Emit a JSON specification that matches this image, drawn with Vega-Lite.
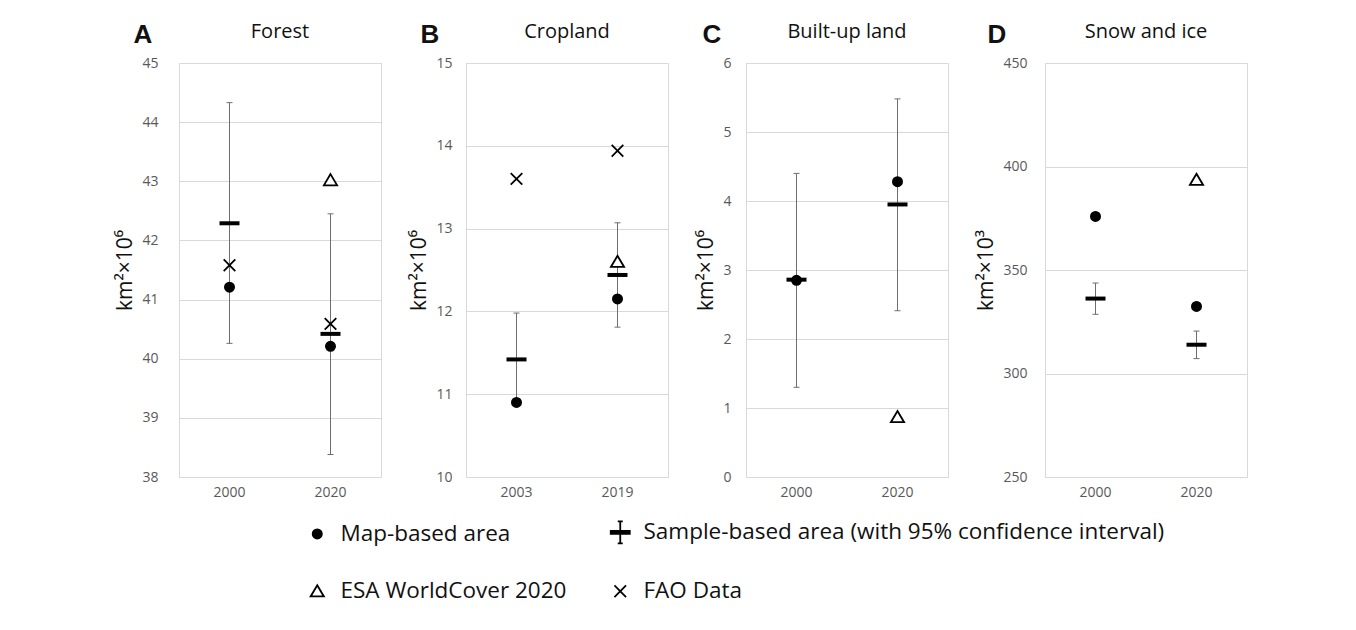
{
  "$schema": "https://vega.github.io/schema/vega-lite/v6.json",
  "padding": {"left": 114, "top": 21, "right": 10, "bottom": 4},
  "background": "white",
  "config": {
    "font": "Open Sans",
    "view": {"stroke": "#d9d9d9", "strokeWidth": 1},
    "axisY": {"labelFontSize": 14, "labelColor": "#595959", "ticks": false, "domain": false, "gridColor": "#d9d9d9", "labelPadding": 20, "titleFontSize": 21, "titleFontWeight": "normal", "titleColor": "#111", "titlePadding": 6},
    "axisX": {"labelFontSize": 14, "labelColor": "#595959", "ticks": false, "domain": false, "grid": false, "labelPadding": 8, "labelAngle": 0},
    "title": {"fontWeight": "normal", "fontSize": 20, "color": "#111"},
    "tick": {"opacity": 1},
    "point": {"opacity": 1}
  },
  "datasets": {
    "pts": [
      {"panel": "A", "year": "2000", "series": "Map-based area", "value": 41.21},
      {"panel": "A", "year": "2000", "series": "FAO Data", "value": 41.58},
      {"panel": "A", "year": "2020", "series": "ESA WorldCover 2020", "value": 43.02},
      {"panel": "A", "year": "2020", "series": "Map-based area", "value": 40.21},
      {"panel": "A", "year": "2020", "series": "FAO Data", "value": 40.59},
      {"panel": "B", "year": "2003", "series": "FAO Data", "value": 13.6},
      {"panel": "B", "year": "2003", "series": "Map-based area", "value": 10.9},
      {"panel": "B", "year": "2019", "series": "FAO Data", "value": 13.94},
      {"panel": "B", "year": "2019", "series": "ESA WorldCover 2020", "value": 12.6},
      {"panel": "B", "year": "2019", "series": "Map-based area", "value": 12.15},
      {"panel": "C", "year": "2000", "series": "Map-based area", "value": 2.85},
      {"panel": "C", "year": "2020", "series": "Map-based area", "value": 4.28},
      {"panel": "C", "year": "2020", "series": "ESA WorldCover 2020", "value": 0.87},
      {"panel": "D", "year": "2000", "series": "Map-based area", "value": 375.9},
      {"panel": "D", "year": "2020", "series": "ESA WorldCover 2020", "value": 393.6},
      {"panel": "D", "year": "2020", "series": "Map-based area", "value": 332.4}
    ],
    "samp": [
      {"panel": "A", "year": "2000", "sample": 42.29, "lo": 40.26, "hi": 44.33},
      {"panel": "A", "year": "2020", "sample": 40.42, "lo": 38.38, "hi": 42.45},
      {"panel": "B", "year": "2003", "sample": 11.42, "lo": 10.9, "hi": 11.98},
      {"panel": "B", "year": "2019", "sample": 12.44, "lo": 11.81, "hi": 13.07},
      {"panel": "C", "year": "2000", "sample": 2.86, "lo": 1.3, "hi": 4.4},
      {"panel": "C", "year": "2020", "sample": 3.95, "lo": 2.41, "hi": 5.48},
      {"panel": "D", "year": "2000", "sample": 336.2, "lo": 328.6, "hi": 343.7},
      {"panel": "D", "year": "2020", "sample": 313.9, "lo": 307.2, "hi": 320.5}
    ]
  },
  "spacing": 26,
  "resolve": {"scale": {"x": "independent", "y": "independent"}},
  "hconcat": [
    {
      "title": {"text": "A", "anchor": "start", "frame": "bounds", "fontSize": 26, "fontWeight": "bold", "font": "Liberation Sans", "dx": 19, "dy": 30},
      "vconcat": [{
        "title": {"text": "Forest", "anchor": "middle", "offset": 14},
        "width": 202, "height": 414,
        "layer": [
          {"data": {"name": "samp"}, "transform": [{"filter": "datum.panel === 'A'"}],
           "mark": {"type": "rule", "color": "#6e6e6e", "strokeWidth": 1},
           "encoding": {"x": {"field": "year", "type": "nominal", "title": null, "scale": {"paddingInner": 0, "paddingOuter": 0}},
             "y": {"field": "lo", "type": "quantitative", "scale": {"domain": [38, 45], "nice": false, "zero": false}, "axis": {"values": [38, 39, 40, 41, 42, 43, 44, 45], "title": "km²×10⁶", "labelPadding": 21}},
             "y2": {"field": "hi"}}},
          {"data": {"name": "samp"}, "transform": [{"filter": "datum.panel === 'A'"}],
           "mark": {"type": "tick", "color": "#6e6e6e", "size": 6, "thickness": 1, "opacity": 1},
           "encoding": {"x": {"field": "year", "type": "nominal", "title": null},
             "y": {"field": "lo", "type": "quantitative", "scale": {"domain": [38, 45], "nice": false, "zero": false}, "axis": {"values": [38, 39, 40, 41, 42, 43, 44, 45], "title": "km²×10⁶", "labelPadding": 21}}}},
          {"data": {"name": "samp"}, "transform": [{"filter": "datum.panel === 'A'"}],
           "mark": {"type": "tick", "color": "#6e6e6e", "size": 6, "thickness": 1, "opacity": 1},
           "encoding": {"x": {"field": "year", "type": "nominal", "title": null},
             "y": {"field": "hi", "type": "quantitative", "scale": {"domain": [38, 45], "nice": false, "zero": false}, "axis": {"values": [38, 39, 40, 41, 42, 43, 44, 45], "title": "km²×10⁶", "labelPadding": 21}}}},
          {"data": {"name": "samp"}, "transform": [{"filter": "datum.panel === 'A'"}],
           "mark": {"type": "tick", "color": "black", "size": 20, "thickness": 4, "opacity": 1},
           "encoding": {"x": {"field": "year", "type": "nominal", "title": null},
             "y": {"field": "sample", "type": "quantitative", "scale": {"domain": [38, 45], "nice": false, "zero": false}, "axis": {"values": [38, 39, 40, 41, 42, 43, 44, 45], "title": "km²×10⁶", "labelPadding": 21}}}},
          {"data": {"name": "pts"}, "transform": [{"filter": "datum.panel === 'A'"}],
           "mark": {"type": "point", "size": 400, "strokeWidth": 1.8, "opacity": 1},
           "encoding": {"x": {"field": "year", "type": "nominal", "title": null},
             "y": {"field": "value", "type": "quantitative", "scale": {"domain": [38, 45], "nice": false, "zero": false}, "axis": {"values": [38, 39, 40, 41, 42, 43, 44, 45], "title": "km²×10⁶", "labelPadding": 21}},
             "shape": {"field": "series", "type": "nominal", "scale": {"domain": ["Map-based area", "Sample-based area (with 95% confidence interval)", "ESA WorldCover 2020", "FAO Data"], "range": ["M-0.46,0A0.46,0.46 0 1,0 0.46,0A0.46,0.46 0 1,0 -0.46,0Z", "M-0.95,-0.15H0.95V0.15H-0.95ZM0,-1.1V1.1M-0.25,-1.1H0.25M-0.25,1.1H0.25", "M0,-0.6L0.66,0.52L-0.66,0.52Z", "M-0.58,-0.58L0.58,0.58M-0.58,0.58L0.58,-0.58"]},
               "legend": {"title": null, "orient": "none", "legendX": 127, "legendY": 458, "columns": 2, "direction": "horizontal", "labelFontSize": 22.5, "labelColor": "#111", "labelLimit": 700, "labelOffset": 12, "columnPadding": 40, "rowPadding": 33, "symbolSize": 400, "symbolStrokeColor": "black", "symbolStrokeWidth": 1.8}},
             "fill": {"field": "series", "type": "nominal", "scale": {"domain": ["Map-based area", "Sample-based area (with 95% confidence interval)", "ESA WorldCover 2020", "FAO Data"], "range": ["black", "black", "white", "white"]},
               "legend": {"title": null, "orient": "none", "legendX": 127, "legendY": 458, "columns": 2, "direction": "horizontal", "labelFontSize": 22.5, "labelColor": "#111", "labelLimit": 700, "labelOffset": 12, "columnPadding": 40, "rowPadding": 33, "symbolSize": 400, "symbolStrokeColor": "black", "symbolStrokeWidth": 1.8}},
             "stroke": {"field": "series", "type": "nominal", "scale": {"domain": ["Map-based area", "Sample-based area (with 95% confidence interval)", "ESA WorldCover 2020", "FAO Data"], "range": ["black", "black", "black", "black"]},
               "legend": {"title": null, "orient": "none", "legendX": 127, "legendY": 458, "columns": 2, "direction": "horizontal", "labelFontSize": 22.5, "labelColor": "#111", "labelLimit": 700, "labelOffset": 12, "columnPadding": 40, "rowPadding": 33, "symbolSize": 400, "symbolStrokeColor": "black", "symbolStrokeWidth": 1.8}}}}
        ]
      }]
    },
    {
      "title": {"text": "B", "anchor": "start", "frame": "bounds", "fontSize": 26, "fontWeight": "bold", "font": "Liberation Sans", "dx": 12, "dy": 30},
      "vconcat": [{
        "title": {"text": "Cropland", "anchor": "middle", "offset": 14},
        "width": 202, "height": 414,
        "layer": [
          {"data": {"name": "samp"}, "transform": [{"filter": "datum.panel === 'B'"}],
           "mark": {"type": "rule", "color": "#6e6e6e", "strokeWidth": 1},
           "encoding": {"x": {"field": "year", "type": "nominal", "title": null, "scale": {"paddingInner": 0, "paddingOuter": 0}},
             "y": {"field": "lo", "type": "quantitative", "scale": {"domain": [10, 15], "nice": false, "zero": false}, "axis": {"values": [10, 11, 12, 13, 14, 15], "title": "km²×10⁶", "labelPadding": 14}},
             "y2": {"field": "hi"}}},
          {"data": {"name": "samp"}, "transform": [{"filter": "datum.panel === 'B'"}],
           "mark": {"type": "tick", "color": "#6e6e6e", "size": 6, "thickness": 1, "opacity": 1},
           "encoding": {"x": {"field": "year", "type": "nominal", "title": null},
             "y": {"field": "lo", "type": "quantitative", "scale": {"domain": [10, 15], "nice": false, "zero": false}, "axis": {"values": [10, 11, 12, 13, 14, 15], "title": "km²×10⁶", "labelPadding": 14}}}},
          {"data": {"name": "samp"}, "transform": [{"filter": "datum.panel === 'B'"}],
           "mark": {"type": "tick", "color": "#6e6e6e", "size": 6, "thickness": 1, "opacity": 1},
           "encoding": {"x": {"field": "year", "type": "nominal", "title": null},
             "y": {"field": "hi", "type": "quantitative", "scale": {"domain": [10, 15], "nice": false, "zero": false}, "axis": {"values": [10, 11, 12, 13, 14, 15], "title": "km²×10⁶", "labelPadding": 14}}}},
          {"data": {"name": "samp"}, "transform": [{"filter": "datum.panel === 'B'"}],
           "mark": {"type": "tick", "color": "black", "size": 20, "thickness": 4, "opacity": 1},
           "encoding": {"x": {"field": "year", "type": "nominal", "title": null},
             "y": {"field": "sample", "type": "quantitative", "scale": {"domain": [10, 15], "nice": false, "zero": false}, "axis": {"values": [10, 11, 12, 13, 14, 15], "title": "km²×10⁶", "labelPadding": 14}}}},
          {"data": {"name": "pts"}, "transform": [{"filter": "datum.panel === 'B'"}],
           "mark": {"type": "point", "size": 400, "strokeWidth": 1.8, "opacity": 1},
           "encoding": {"x": {"field": "year", "type": "nominal", "title": null},
             "y": {"field": "value", "type": "quantitative", "scale": {"domain": [10, 15], "nice": false, "zero": false}, "axis": {"values": [10, 11, 12, 13, 14, 15], "title": "km²×10⁶", "labelPadding": 14}},
             "shape": {"field": "series", "type": "nominal"},
             "fill": {"field": "series", "type": "nominal"},
             "stroke": {"field": "series", "type": "nominal"}}}
        ]
      }]
    },
    {
      "title": {"text": "C", "anchor": "start", "frame": "bounds", "fontSize": 26, "fontWeight": "bold", "font": "Liberation Sans", "dx": 7, "dy": 30},
      "vconcat": [{
        "title": {"text": "Built-up land", "anchor": "middle", "offset": 14},
        "width": 202, "height": 414,
        "layer": [
          {"data": {"name": "samp"}, "transform": [{"filter": "datum.panel === 'C'"}],
           "mark": {"type": "rule", "color": "#6e6e6e", "strokeWidth": 1},
           "encoding": {"x": {"field": "year", "type": "nominal", "title": null, "scale": {"paddingInner": 0, "paddingOuter": 0}},
             "y": {"field": "lo", "type": "quantitative", "scale": {"domain": [0, 6], "nice": false, "zero": false}, "axis": {"values": [0, 1, 2, 3, 4, 5, 6], "title": "km²×10⁶", "labelPadding": 15}},
             "y2": {"field": "hi"}}},
          {"data": {"name": "samp"}, "transform": [{"filter": "datum.panel === 'C'"}],
           "mark": {"type": "tick", "color": "#6e6e6e", "size": 6, "thickness": 1, "opacity": 1},
           "encoding": {"x": {"field": "year", "type": "nominal", "title": null},
             "y": {"field": "lo", "type": "quantitative", "scale": {"domain": [0, 6], "nice": false, "zero": false}, "axis": {"values": [0, 1, 2, 3, 4, 5, 6], "title": "km²×10⁶", "labelPadding": 15}}}},
          {"data": {"name": "samp"}, "transform": [{"filter": "datum.panel === 'C'"}],
           "mark": {"type": "tick", "color": "#6e6e6e", "size": 6, "thickness": 1, "opacity": 1},
           "encoding": {"x": {"field": "year", "type": "nominal", "title": null},
             "y": {"field": "hi", "type": "quantitative", "scale": {"domain": [0, 6], "nice": false, "zero": false}, "axis": {"values": [0, 1, 2, 3, 4, 5, 6], "title": "km²×10⁶", "labelPadding": 15}}}},
          {"data": {"name": "samp"}, "transform": [{"filter": "datum.panel === 'C'"}],
           "mark": {"type": "tick", "color": "black", "size": 20, "thickness": 4, "opacity": 1},
           "encoding": {"x": {"field": "year", "type": "nominal", "title": null},
             "y": {"field": "sample", "type": "quantitative", "scale": {"domain": [0, 6], "nice": false, "zero": false}, "axis": {"values": [0, 1, 2, 3, 4, 5, 6], "title": "km²×10⁶", "labelPadding": 15}}}},
          {"data": {"name": "pts"}, "transform": [{"filter": "datum.panel === 'C'"}],
           "mark": {"type": "point", "size": 400, "strokeWidth": 1.8, "opacity": 1},
           "encoding": {"x": {"field": "year", "type": "nominal", "title": null},
             "y": {"field": "value", "type": "quantitative", "scale": {"domain": [0, 6], "nice": false, "zero": false}, "axis": {"values": [0, 1, 2, 3, 4, 5, 6], "title": "km²×10⁶", "labelPadding": 15}},
             "shape": {"field": "series", "type": "nominal"},
             "fill": {"field": "series", "type": "nominal"},
             "stroke": {"field": "series", "type": "nominal"}}}
        ]
      }]
    },
    {
      "title": {"text": "D", "anchor": "start", "frame": "bounds", "fontSize": 26, "fontWeight": "bold", "font": "Liberation Sans", "dx": 12, "dy": 30},
      "vconcat": [{
        "title": {"text": "Snow and ice", "anchor": "middle", "offset": 14},
        "width": 202, "height": 414,
        "layer": [
          {"data": {"name": "samp"}, "transform": [{"filter": "datum.panel === 'D'"}],
           "mark": {"type": "rule", "color": "#6e6e6e", "strokeWidth": 1},
           "encoding": {"x": {"field": "year", "type": "nominal", "title": null, "scale": {"paddingInner": 0, "paddingOuter": 0}},
             "y": {"field": "lo", "type": "quantitative", "scale": {"domain": [250, 450], "nice": false, "zero": false}, "axis": {"values": [250, 300, 350, 400, 450], "title": "km²×10³", "labelPadding": 18}},
             "y2": {"field": "hi"}}},
          {"data": {"name": "samp"}, "transform": [{"filter": "datum.panel === 'D'"}],
           "mark": {"type": "tick", "color": "#6e6e6e", "size": 6, "thickness": 1, "opacity": 1},
           "encoding": {"x": {"field": "year", "type": "nominal", "title": null},
             "y": {"field": "lo", "type": "quantitative", "scale": {"domain": [250, 450], "nice": false, "zero": false}, "axis": {"values": [250, 300, 350, 400, 450], "title": "km²×10³", "labelPadding": 18}}}},
          {"data": {"name": "samp"}, "transform": [{"filter": "datum.panel === 'D'"}],
           "mark": {"type": "tick", "color": "#6e6e6e", "size": 6, "thickness": 1, "opacity": 1},
           "encoding": {"x": {"field": "year", "type": "nominal", "title": null},
             "y": {"field": "hi", "type": "quantitative", "scale": {"domain": [250, 450], "nice": false, "zero": false}, "axis": {"values": [250, 300, 350, 400, 450], "title": "km²×10³", "labelPadding": 18}}}},
          {"data": {"name": "samp"}, "transform": [{"filter": "datum.panel === 'D'"}],
           "mark": {"type": "tick", "color": "black", "size": 20, "thickness": 4, "opacity": 1},
           "encoding": {"x": {"field": "year", "type": "nominal", "title": null},
             "y": {"field": "sample", "type": "quantitative", "scale": {"domain": [250, 450], "nice": false, "zero": false}, "axis": {"values": [250, 300, 350, 400, 450], "title": "km²×10³", "labelPadding": 18}}}},
          {"data": {"name": "pts"}, "transform": [{"filter": "datum.panel === 'D'"}],
           "mark": {"type": "point", "size": 400, "strokeWidth": 1.8, "opacity": 1},
           "encoding": {"x": {"field": "year", "type": "nominal", "title": null},
             "y": {"field": "value", "type": "quantitative", "scale": {"domain": [250, 450], "nice": false, "zero": false}, "axis": {"values": [250, 300, 350, 400, 450], "title": "km²×10³", "labelPadding": 18}},
             "shape": {"field": "series", "type": "nominal"},
             "fill": {"field": "series", "type": "nominal"},
             "stroke": {"field": "series", "type": "nominal"}}}
        ]
      }]
    }
  ]
}
